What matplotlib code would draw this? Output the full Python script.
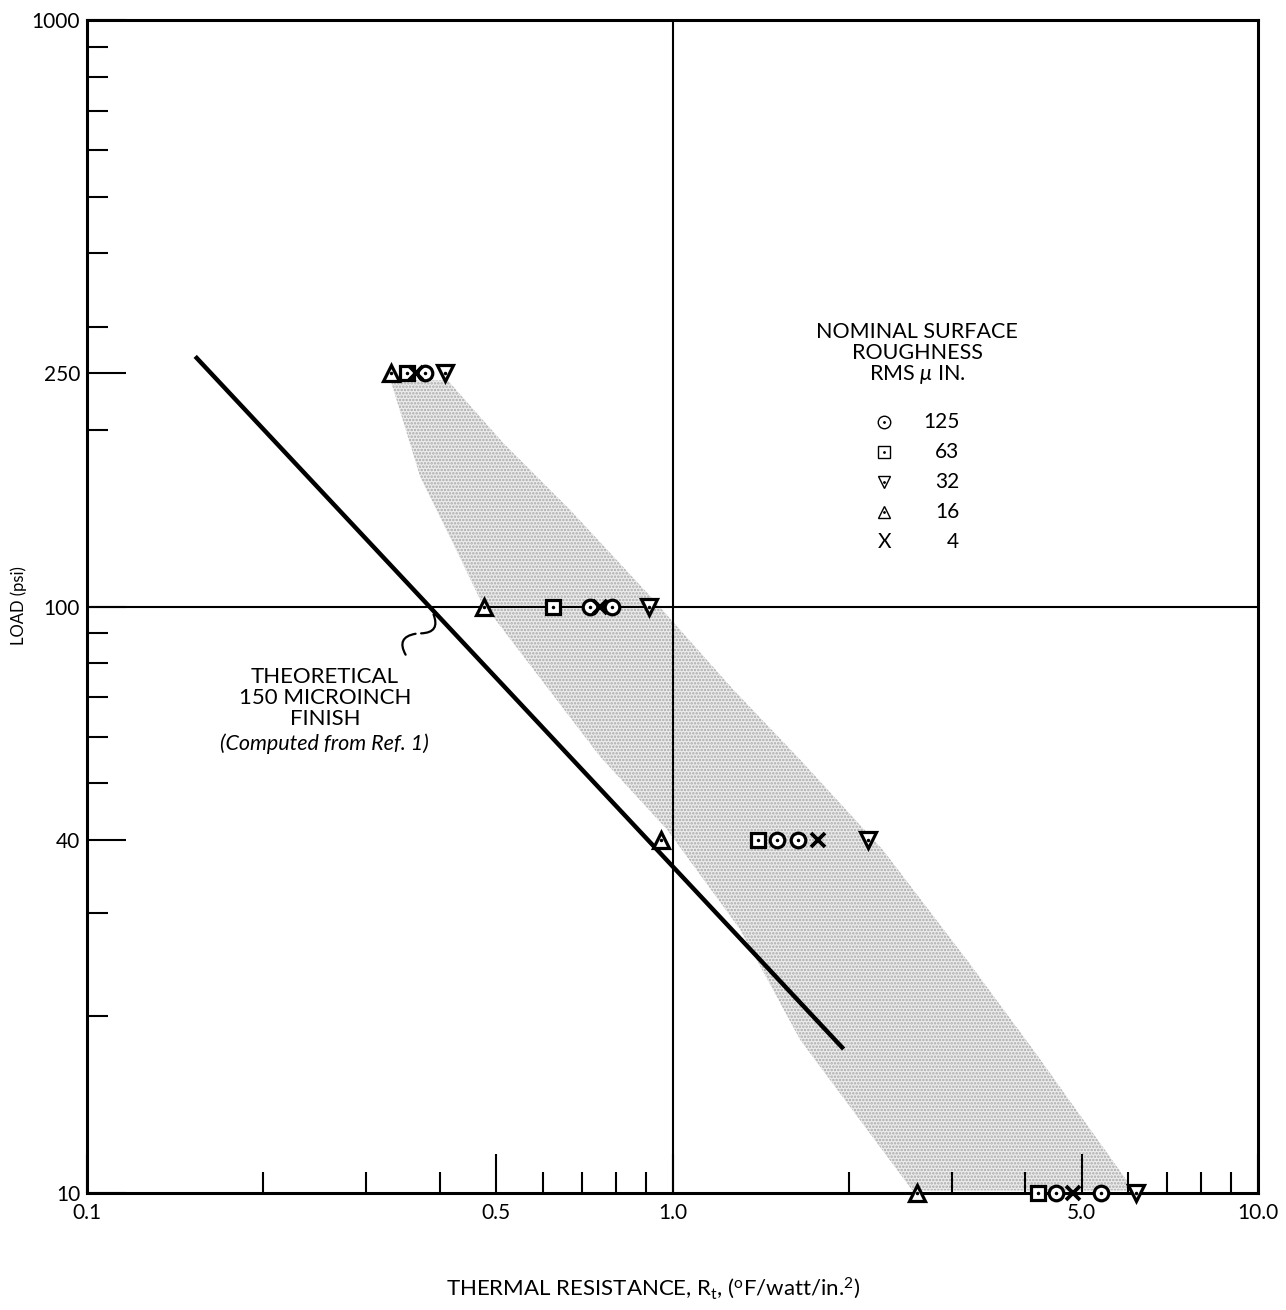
import matplotlib
matplotlib.use("Agg")
import matplotlib.pyplot as plt
from matplotlib.ticker import FixedLocator, NullFormatter

# ==========================================================
# DATA
# ==========================================================

# roughness 125 (circle with dot)
circle_x = [0.378, 0.724, 0.789, 1.51, 1.64, 4.52, 5.39]
circle_y = [250, 100, 100, 40, 40, 10, 10]

# roughness 63 (square with dot)
square_x = [0.352, 0.626, 1.397, 4.21]
square_y = [250, 100, 40, 10]

# roughness 32 (triangle down)
tridown_x = [0.408, 0.910, 2.16, 6.19]
tridown_y = [250, 100, 40, 10]

# roughness 16 (triangle up)
triup_x = [0.330, 0.477, 0.957, 2.62]
triup_y = [250, 100, 40, 10]

# roughness 4 (X)
cross_x = [0.364, 0.753, 1.77, 4.83]
cross_y = [250, 100, 40, 10]

# theoretical 150 microinch line
theory_x = [0.153, 1.96]
theory_y = [267, 17.6]

# shaded scatter band (left edge top->bottom, right edge bottom->top)
band_x = [0.330, 0.371, 0.422, 0.470, 0.753, 0.980, 1.306, 1.655, 2.57,
          6.14, 4.14, 3.19, 2.29, 1.655, 1.271, 0.906, 0.669, 0.514, 0.413]
band_y = [243, 166, 128, 102.5, 55.4, 41.6, 28.1, 18.2, 10.1,
          10.1, 17.5, 24.9, 38.4, 54.7, 72.1, 105.4, 146, 190, 243]

x_major = [0.1, 0.5, 1.0, 5.0, 10.0]
x_major_labels = ["0.1", "0.5", "1.0", "5.0", "10.0"]
y_major = [10, 40, 100, 250, 1000]
y_major_labels = ["10", "40", "100", "250", "1000"]

legend_labels = ["125", "63", "32", "16", "4"]

plt.rcParams['font.family'] = ['Lato', 'DejaVu Sans']
plt.rcParams['mathtext.fontset'] = 'custom'
plt.rcParams['mathtext.rm'] = 'Lato'
plt.rcParams['mathtext.it'] = 'Lato:italic'
plt.rcParams['hatch.linewidth'] = 1.2

fig = plt.figure(figsize=(12.86, 13.10), dpi=100)
ax = fig.add_axes([0.0677, 0.0893, 0.9105, 0.8954])
ax.set_xscale('log')
ax.set_yscale('log')
ax.set_xlim(0.1, 10)
ax.set_ylim(10, 1000)

# shaded band
ax.fill(band_x, band_y, facecolor='#ececec', edgecolor='#a8a8a8',
        hatch='.....', linewidth=0, zorder=1)

# reference lines at 1.0 and 100
ax.axvline(1.0, color='black', lw=1.5, zorder=2)
ax.axhline(100, color='black', lw=1.5, zorder=2)

# theoretical line
ax.plot(theory_x, theory_y, color='black', lw=3.2, solid_capstyle='butt', zorder=3)

# data markers
mk = dict(linestyle='none', markerfacecolor='white', markeredgecolor='black',
          markeredgewidth=2.3, clip_on=False, zorder=5)
ax.plot(circle_x, circle_y, marker='o', markersize=10.5, **mk)
ax.plot(square_x, square_y, marker='s', markersize=10, **mk)
ax.plot(tridown_x, tridown_y, marker='v', markersize=12, **mk)
ax.plot(triup_x, triup_y, marker='^', markersize=12, **mk)
ax.plot(cross_x, cross_y, marker='x', markersize=10.5, linestyle='none',
        color='black', markeredgewidth=2.7, clip_on=False, zorder=6)
# center dots
for xs, ys in [(circle_x, circle_y), (square_x, square_y),
               (tridown_x, tridown_y), (triup_x, triup_y)]:
    ax.plot(xs, ys, marker='.', markersize=3, linestyle='none',
            color='black', clip_on=False, zorder=7)

# ticks
ax.xaxis.set_major_locator(FixedLocator(x_major))
ax.set_xticklabels(x_major_labels)
ax.yaxis.set_major_locator(FixedLocator(y_major))
ax.set_yticklabels(y_major_labels)
ax.xaxis.set_minor_locator(FixedLocator([0.2, 0.3, 0.4, 0.6, 0.7, 0.8, 0.9,
                                         2, 3, 4, 6, 7, 8, 9]))
ax.yaxis.set_minor_locator(FixedLocator([20, 30, 50, 60, 70, 80, 90,
                                         200, 300, 400, 500, 600, 700, 800, 900]))
ax.xaxis.set_minor_formatter(NullFormatter())
ax.yaxis.set_minor_formatter(NullFormatter())
ax.tick_params(which='major', direction='in', length=28, width=1.5,
               labelsize=15, top=False, right=False)
ax.tick_params(which='minor', direction='in', length=15, width=1.5,
               top=False, right=False)
ax.tick_params(axis='x', which='major', pad=7)
ax.tick_params(axis='y', which='major', pad=5)

for s in ax.spines.values():
    s.set_linewidth(2.2)

# axis labels
ax.set_xlabel(r"THERMAL RESISTANCE, R$_\mathregular{t}$, ($^\mathregular{o}$F/watt/in.$^\mathregular{2}$)",
              fontsize=16)
ax.xaxis.set_label_coords(0.483, -0.070)
ax.set_ylabel("LOAD (psi)", fontsize=12)
ax.yaxis.set_label_coords(-0.051, 0.501)

# theoretical annotation with squiggle leader
ax.annotate("", xy=(0.389, 97.9), xytext=(0.368, 90.0),
            arrowprops=dict(arrowstyle='-', lw=1.6, color='black',
                            connectionstyle='arc3,rad=0.8'))
ax.annotate("", xy=(0.368, 90.0), xytext=(0.352, 82.0),
            arrowprops=dict(arrowstyle='-', lw=1.6, color='black',
                            connectionstyle='arc3,rad=-0.8'))
note_lines = ["THEORETICAL", "150 MICROINCH", "FINISH"]
for yy, line in zip([0.440, 0.422, 0.404], note_lines):
    ax.text(0.203, yy, line, transform=ax.transAxes, ha='center', va='center',
            fontsize=16)
ax.text(0.203, 0.383, "(Computed from Ref. 1)", transform=ax.transAxes,
        ha='center', va='center', fontsize=15.5, style='italic')

# legend block
head_lines = ["NOMINAL SURFACE", "ROUGHNESS", "RMS $\\mathit{\\mu}$ IN."]
for yy, line in zip([0.734, 0.716, 0.698], head_lines):
    ax.text(0.709, yy, line, transform=ax.transAxes, ha='center', va='center',
            fontsize=15.5)
leg_y = [0.657, 0.632, 0.606, 0.581, 0.555]
leg_markers = ['o', 's', 'v', '^']
for yy, m in zip(leg_y[:4], leg_markers):
    ax.plot([0.681], [yy], marker=m, markersize=9, markerfacecolor='white',
            markeredgecolor='black', markeredgewidth=1.0, transform=ax.transAxes,
            clip_on=False, zorder=5)
    ax.plot([0.681], [yy], marker='.', markersize=2, color='black',
            transform=ax.transAxes, clip_on=False, zorder=6)
ax.text(0.681, leg_y[4], "X", transform=ax.transAxes, ha='center', va='center',
        fontsize=15)
for yy, lab in zip(leg_y, legend_labels):
    ax.text(0.745, yy, lab, transform=ax.transAxes, ha='right', va='center',
            fontsize=15)

fig.savefig("out.png", dpi=100)
